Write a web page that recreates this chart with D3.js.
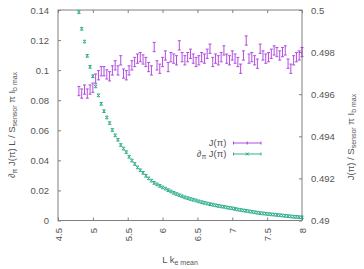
<!DOCTYPE html>
<html>
<head>
<meta charset="utf-8">
<script src="https://cdn.jsdelivr.net/npm/d3@7"></script>
<style>
  body { margin: 0; background: #fff; }
  svg { font-family: "Liberation Sans", Arial, sans-serif; }
  .tick text { fill: #555; font-size: 9.5px; }
  .tick line { stroke: #808080; }
</style>
</head>
<body>
<div id="chart"></div>
<script>
// --- data ---
const lkMean = [
  4.80, 4.84, 4.88, 4.92, 4.96, 5.00, 5.04, 5.08, 5.12, 5.16,
  5.20, 5.24, 5.28, 5.32, 5.36, 5.40, 5.44, 5.48, 5.52, 5.56,
  5.60, 5.64, 5.68, 5.72, 5.76, 5.80, 5.84, 5.88, 5.92, 5.96,
  6.00, 6.04, 6.08, 6.12, 6.16, 6.20, 6.24, 6.28, 6.32, 6.36,
  6.40, 6.44, 6.48, 6.52, 6.56, 6.60, 6.64, 6.68, 6.72, 6.76,
  6.80, 6.84, 6.88, 6.92, 6.96, 7.00, 7.04, 7.08, 7.12, 7.16,
  7.20, 7.24, 7.28, 7.32, 7.36, 7.40, 7.44, 7.48, 7.52, 7.56,
  7.60, 7.64, 7.68, 7.72, 7.76, 7.80, 7.84, 7.88, 7.92, 7.96,
  8.00
];

// J(pi) on the right axis
const jPi = [
  0.49615, 0.49603, 0.49622, 0.49603, 0.49622, 0.49631, 0.49674, 0.49690, 0.49709, 0.49709,
  0.49694, 0.49685, 0.49713, 0.49737, 0.49713, 0.49761, 0.49698, 0.49690, 0.49713, 0.49737,
  0.49753, 0.49769, 0.49776, 0.49765, 0.49753, 0.49729, 0.49713, 0.49824, 0.49737, 0.49721,
  0.49753, 0.49784, 0.49729, 0.49776, 0.49769, 0.49761, 0.49832, 0.49776, 0.49761, 0.49776,
  0.49792, 0.49769, 0.49753, 0.49761, 0.49776, 0.49769, 0.49792, 0.49816, 0.49753, 0.49769,
  0.49761, 0.49776, 0.49808, 0.49769, 0.49761, 0.49784, 0.49769, 0.49753, 0.49721, 0.49784,
  0.49855, 0.49769, 0.49776, 0.49761, 0.49745, 0.49816, 0.49784, 0.49769, 0.49776, 0.49792,
  0.49808, 0.49800, 0.49784, 0.49800, 0.49808, 0.49745, 0.49721, 0.49761, 0.49776, 0.49784,
  0.49800
];
const jPiErr = 0.00022;

// d_pi J(pi) on the left axis
const dJPi = [
  0.1385, 0.1275, 0.1190, 0.1095, 0.1022, 0.0960, 0.0892, 0.0832, 0.0776, 0.0727,
  0.0685, 0.0648, 0.0602, 0.0566, 0.0537, 0.0502, 0.0478, 0.0455, 0.0424, 0.0399,
  0.0376, 0.0353, 0.0334, 0.0317, 0.0297, 0.0280, 0.0265, 0.0250, 0.0240, 0.0230,
  0.0220, 0.0212, 0.0202, 0.0193, 0.0184, 0.0176, 0.0168, 0.0161, 0.0154, 0.0149,
  0.0143, 0.0138, 0.0133, 0.0127, 0.0122, 0.0117, 0.0113, 0.0109, 0.0105, 0.0101,
  0.0097, 0.0094, 0.0091, 0.0087, 0.0084, 0.0081, 0.0077, 0.0073, 0.0070, 0.0067,
  0.0064, 0.0061, 0.0058, 0.0055, 0.0052, 0.0049, 0.0047, 0.0045, 0.0043, 0.0041,
  0.0039, 0.0037, 0.0035, 0.0033, 0.0031, 0.0029, 0.0027, 0.0025, 0.0024, 0.0022,
  0.0021
];
const dJPiErr = 0.0009;

const xTicks = [4.5, 5, 5.5, 6, 6.5, 7, 7.5, 8];
const yTicks = [0, 0.02, 0.04, 0.06, 0.08, 0.1, 0.12, 0.14];
const y2Ticks = [0.49, 0.492, 0.494, 0.496, 0.498, 0.5];

// --- layout ---
const width = 364, height = 269;
const plotLeft = 58, plotRight = 302, plotTop = 10, plotBottom = 220.5;
const purple = "#9400d3", green = "#009e73", grey = "#808080";

const svg = d3.select("#chart").append("svg")
  .attr("width", width).attr("height", height);

const x = d3.scaleLinear().domain([4.5, 8]).range([plotLeft, plotRight]);
const y = d3.scaleLinear().domain([0, 0.14]).range([plotBottom, plotTop]);
const y2 = d3.scaleLinear().domain([0.49, 0.5]).range([plotBottom, plotTop]);
const fmt = d => String(+d.toFixed(3));

// axes (ticks point inward)
const gx = svg.append("g").attr("transform", `translate(0,${plotBottom})`)
  .call(d3.axisBottom(x).tickValues(xTicks).tickFormat(fmt).tickSizeInner(-3).tickSizeOuter(0));
gx.selectAll(".tick text")
  .attr("transform", "rotate(-90)")
  .attr("x", -7.5).attr("y", 0).attr("dy", "0.35em")
  .style("text-anchor", "end");

svg.append("g").attr("transform", `translate(0,${plotTop})`)
  .call(d3.axisTop(x).tickValues(xTicks).tickFormat("").tickSizeInner(-3).tickSizeOuter(0));

svg.append("g").attr("transform", `translate(${plotLeft},0)`)
  .call(d3.axisLeft(y).tickValues(yTicks).tickFormat(fmt).tickSizeInner(-3).tickSizeOuter(0).tickPadding(9));

svg.append("g").attr("transform", `translate(${plotRight},0)`)
  .call(d3.axisRight(y2).tickValues(y2Ticks).tickFormat(fmt).tickSizeInner(-3).tickSizeOuter(0).tickPadding(9));

svg.selectAll(".domain").remove();

svg.append("rect")
  .attr("x", plotLeft).attr("y", plotTop)
  .attr("width", plotRight - plotLeft).attr("height", plotBottom - plotTop)
  .attr("fill", "none").attr("stroke", grey);

// --- series ---
const plot = svg.append("g");

// green: d_pi J(pi)
const gGreen = plot.append("g").attr("stroke", green).attr("stroke-width", 1)
  .attr("fill", "none").attr("opacity", 0.8);
lkMean.forEach((lk, i) => {
  const cx = x(lk), cy = y(dJPi[i]);
  const y0 = y(dJPi[i] - dJPiErr), y1 = y(dJPi[i] + dJPiErr);
  gGreen.append("path")
    .attr("d", `M${cx - 1.3},${y0}h2.6M${cx - 1.3},${y1}h2.6` +
               `M${cx - 1.5},${cy - 1.5}l3,3M${cx - 1.5},${cy + 1.5}l3,-3`);
});

// purple: J(pi)
const gPurple = plot.append("g").attr("stroke", purple).attr("stroke-width", 1)
  .attr("fill", "none").attr("opacity", 0.7);
lkMean.forEach((lk, i) => {
  const cx = x(lk);
  const y0 = y2(jPi[i] - jPiErr), y1 = y2(jPi[i] + jPiErr);
  gPurple.append("path")
    .attr("d", `M${cx},${y0}V${y1}M${cx - 1.5},${y0}h3M${cx - 1.5},${y1}h3`);
});

// --- legend ---
const legend = svg.append("g").attr("font-size", 9.5).attr("fill", "#555");
const legendRows = [
  { color: purple, y: 143, cross: false, label: [["J(π)", null]] },
  { color: green, y: 154, cross: true, label: [["∂", null], ["π", "sub"], [" J(π)", null]] }
];
legendRows.forEach(r => {
  const t = legend.append("text").attr("x", 226.5).attr("y", r.y).attr("dy", "0.35em")
    .attr("text-anchor", "end");
  r.label.forEach(([s, kind]) => {
    const ts = t.append("tspan").text(s);
    if (kind === "sub") ts.attr("font-size", 7).attr("baseline-shift", "-25%");
  });
  const x0 = 233.5, x1 = 261, xm = (x0 + x1) / 2;
  let d = `M${x0},${r.y}H${x1}M${x0},${r.y - 1.5}v3M${x1},${r.y - 1.5}v3`;
  if (r.cross) d += `M${xm - 1.5},${r.y - 1.5}l3,3M${xm - 1.5},${r.y + 1.5}l3,-3`;
  else d += `M${xm},${r.y - 1.5}v3`;
  legend.append("path").attr("d", d).attr("stroke", r.color).attr("fill", "none")
    .attr("opacity", r.cross ? 0.8 : 0.7);
});

// --- axis titles ---
const titles = svg.append("g").attr("fill", "#555").attr("font-size", 9.5);

const xt = titles.append("text").attr("x", 180).attr("y", 263).attr("text-anchor", "middle");
xt.append("tspan").text("L k");
xt.append("tspan").text("e mean").attr("font-size", 7).attr("baseline-shift", "-30%");

const yt = titles.append("text")
  .attr("transform", "translate(15,125) rotate(-90)").attr("text-anchor", "middle");
[["∂", null], ["π", "sub"], [" J(π) L / S", null], ["sensor", "sub"], [" π I", null], ["b max", "sub"]]
  .forEach(([s, kind]) => {
    const ts = yt.append("tspan").text(s);
    if (kind === "sub") ts.attr("font-size", 7).attr("baseline-shift", "-30%");
  });

const y2t = titles.append("text")
  .attr("transform", "translate(354,137) rotate(-90)").attr("text-anchor", "middle");
[["J(π) / S", null], ["sensor", "sub"], [" π I", null], ["b max", "sub"]]
  .forEach(([s, kind]) => {
    const ts = y2t.append("tspan").text(s);
    if (kind === "sub") ts.attr("font-size", 7).attr("baseline-shift", "-30%");
  });
</script>
</body>
</html>
